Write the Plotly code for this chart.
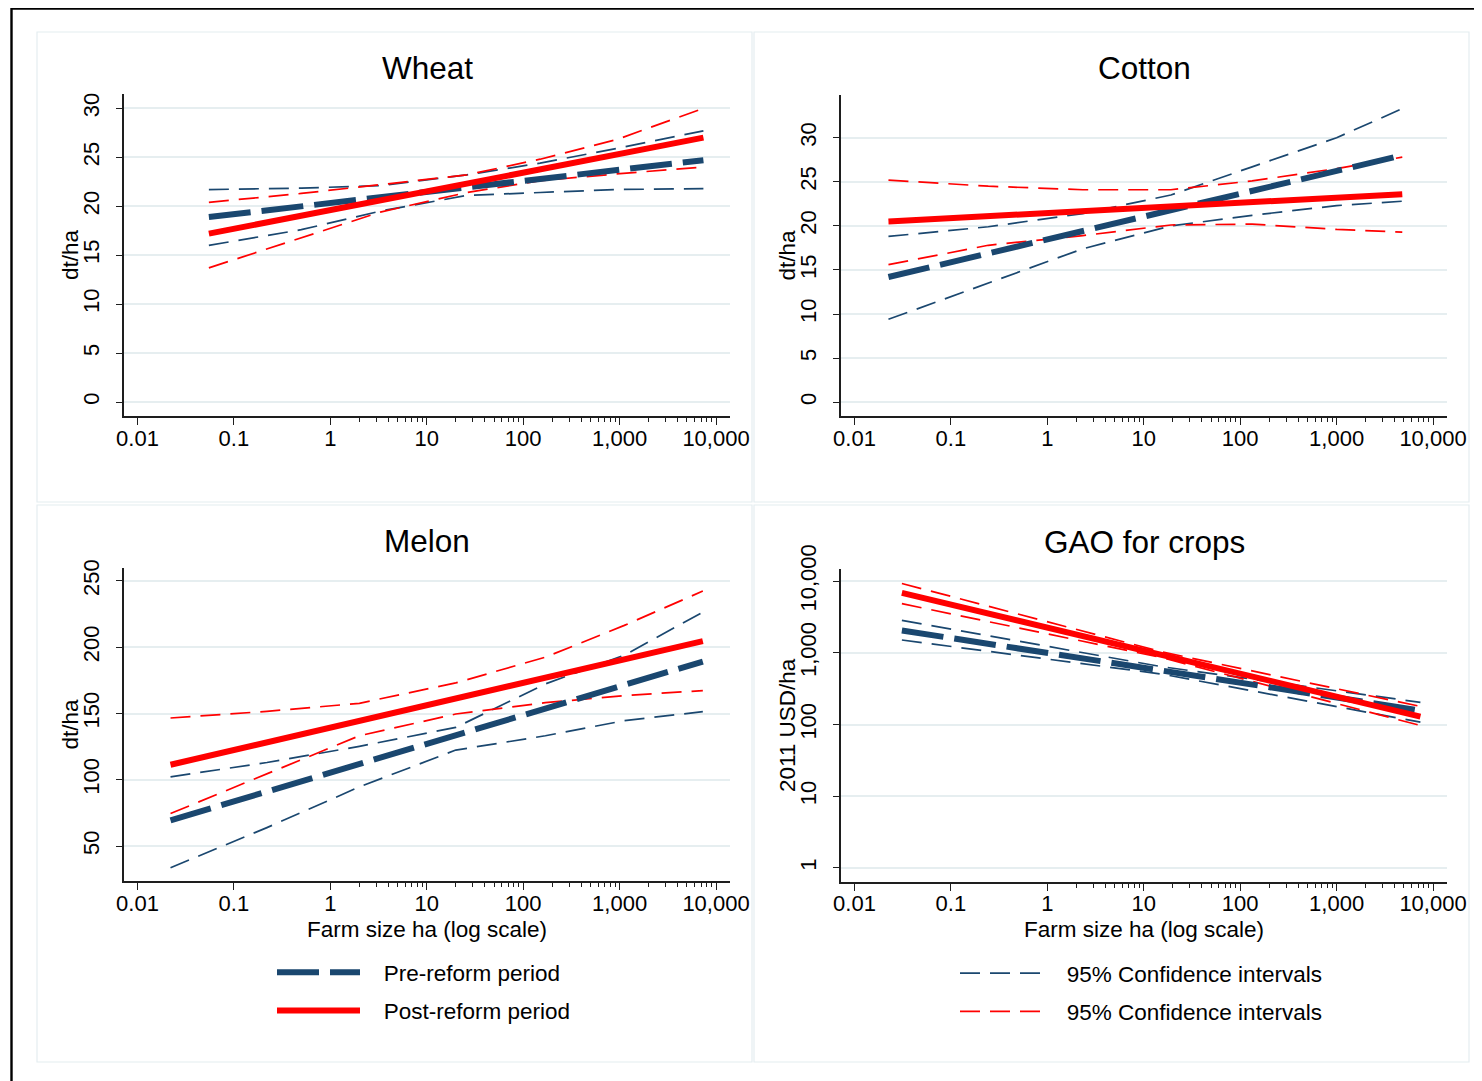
import plotly.graph_objects as go

# ---------------- data ----------------
# Wheat
wheat_x_fit = [0.055, 7400]
wheat_pre = [18.9, 24.7]
wheat_post = [17.2, 27.0]
wheat_x_ci = [0.055, 0.5, 3.3, 26, 150, 930, 7400]
wheat_pre_hi = [21.7, 21.85, 22.1, 23.2, 24.4, 25.9, 27.7]
wheat_pre_lo = [16.0, 17.6, 19.5, 21.1, 21.4, 21.7, 21.8]
wheat_post_hi = [20.4, 21.3, 22.2, 23.2, 24.8, 26.8, 30.0]
wheat_post_lo = [13.7, 16.8, 19.4, 21.4, 22.6, 23.3, 24.0]

# Cotton
cotton_x_fit = [0.0225, 4800]
cotton_pre = [14.2, 28.0]
cotton_post = [20.5, 23.6]
cotton_x_ci = [0.0225, 0.244, 2.33, 19.1, 133, 1000, 4800]
cotton_pre_hi = [18.8, 19.9, 21.4, 23.5, 26.7, 30.0, 33.3]
cotton_pre_lo = [9.4, 13.5, 17.4, 20.0, 21.2, 22.3, 22.8]
cotton_post_hi = [25.2, 24.5, 24.1, 24.1, 25.1, 26.5, 27.8]
cotton_post_lo = [15.6, 17.8, 18.9, 20.1, 20.2, 19.6, 19.3]

# Melon
melon_x_fit = [0.022, 7300]
melon_pre = [69.4, 189.2]
melon_post = [111.3, 204.6]
melon_x_ci = [0.022, 0.22, 2.0, 20, 170, 1120, 7300]
melon_pre_hi = [102.2, 113.0, 125.2, 139.5, 172.3, 194.0, 226.5]
melon_pre_lo = [33.6, 63.9, 94.6, 122.4, 133.2, 144.6, 151.4]
melon_post_hi = [146.6, 151.6, 157.7, 173.1, 192.5, 216.5, 242.4]
melon_post_lo = [74.5, 104.7, 133.2, 149.6, 158.2, 163.5, 167.3]

# GAO for crops (2011 USD/ha)
gao_x_fit = [0.031, 7400]
gao_pre = [2050, 157]
gao_post = [6850, 129]
gao_x_ci = [0.031, 15.5, 7400]
gao_pre_hi = [2830, 640, 204]
gao_pre_lo = [1510, 505, 108]
gao_post_hi = [9270, 1030, 179]
gao_post_lo = [4850, 855, 97]

# tick labels
x_tickvals = [0.01, 0.1, 1, 10, 100, 1000, 10000]
x_ticktext = ["0.01", "0.1", "1", "10", "100", "1,000", "10,000"]
x_minorvals = [m * d for d in (1, 10, 100, 1000) for m in range(2, 10)]
dt_tickvals = [0, 5, 10, 15, 20, 25, 30]
melon_tickvals = [50, 100, 150, 200, 250]
gao_tickvals = [1, 10, 100, 1000, 10000]
gao_ticktext = ["1", "10", "100", "1,000", "10,000"]

titles = ["Wheat", "Cotton", "Melon", "GAO for crops"]
y_titles = ["dt/ha", "dt/ha", "dt/ha", "2011 USD/ha"]
x_title = "Farm size ha (log scale)"
legend_labels = ["Pre-reform period", "Post-reform period",
                 "95% Confidence intervals", "95% Confidence intervals"]

# ---------------- styling ----------------
W, H = 1482, 1081
OFF = 8  # page body margin of the html page
NAVY = "#1a476f"
RED = "#ff0000"
FONT = "Liberation Sans, Arial, sans-serif"
GRID = "#e6eef0"
AXC = "#1e1e1e"
PAD = "\u00a0\u00a0\u00a0"  # gap between legend sample and text


def pxx(x):
    return (x - OFF) / W


def pxy(y):
    return 1 - (y - OFF) / H


panels = [
    dict(ax="", xdom=(124, 730), ydom=(94, 416), yrange=[-1.43, 31.46], ylog=False,
         yt=dt_tickvals, ytt=[str(v) for v in dt_tickvals], xtitle=False,
         xf=wheat_x_fit, pre=wheat_pre, post=wheat_post, xc=wheat_x_ci,
         prehi=wheat_pre_hi, prelo=wheat_pre_lo, posthi=wheat_post_hi, postlo=wheat_post_lo,
         title_y=68, ytitle_x=70),
    dict(ax="2", xdom=(841, 1447), ydom=(95, 416), yrange=[-1.57, 34.85], ylog=False,
         yt=dt_tickvals, ytt=[str(v) for v in dt_tickvals], xtitle=False,
         xf=cotton_x_fit, pre=cotton_pre, post=cotton_post, xc=cotton_x_ci,
         prehi=cotton_pre_hi, prelo=cotton_pre_lo, posthi=cotton_post_hi, postlo=cotton_post_lo,
         title_y=68, ytitle_x=787),
    dict(ax="3", xdom=(124, 730), ydom=(568, 881), yrange=[23.6, 259.8], ylog=False,
         yt=melon_tickvals, ytt=[str(v) for v in melon_tickvals], xtitle=True,
         xf=melon_x_fit, pre=melon_pre, post=melon_post, xc=melon_x_ci,
         prehi=melon_pre_hi, prelo=melon_pre_lo, posthi=melon_post_hi, postlo=melon_post_lo,
         title_y=541, ytitle_x=70),
    dict(ax="4", xdom=(841, 1447), ydom=(568.5, 881.6), yrange=[-0.19, 4.176], ylog=True,
         yt=gao_tickvals, ytt=gao_ticktext, xtitle=True,
         xf=gao_x_fit, pre=gao_pre, post=gao_post, xc=gao_x_ci,
         prehi=gao_pre_hi, prelo=gao_pre_lo, posthi=gao_post_hi, postlo=gao_post_lo,
         title_y=542, ytitle_x=787),
]

fig = go.Figure()
layout = dict(
    width=W, height=H, margin=dict(l=0, r=0, t=0, b=0, pad=0, autoexpand=False),
    paper_bgcolor="white", plot_bgcolor="white",
    font=dict(family=FONT, color="black", size=21),
    annotations=[], shapes=[],
)

thin = 1.7
thick = 6
ci_dash = "20px,10px"
fit_dash = "42px,11px"

for i, p in enumerate(panels):
    xa = "x" + p["ax"]
    ya = "y" + p["ax"]
    first = i == 0
    # confidence intervals
    fig.add_trace(go.Scatter(x=p["xc"], y=p["prehi"], xaxis=xa, yaxis=ya, mode="lines",
                             line=dict(color=NAVY, width=thin, dash=ci_dash),
                             name=PAD + legend_labels[2], legend="legend2", legendrank=1,
                             showlegend=first, legendgroup="ci_pre"))
    fig.add_trace(go.Scatter(x=p["xc"], y=p["prelo"], xaxis=xa, yaxis=ya, mode="lines",
                             line=dict(color=NAVY, width=thin, dash=ci_dash),
                             showlegend=False, legendgroup="ci_pre", legend="legend2"))
    fig.add_trace(go.Scatter(x=p["xc"], y=p["posthi"], xaxis=xa, yaxis=ya, mode="lines",
                             line=dict(color=RED, width=thin, dash=ci_dash),
                             name=PAD + legend_labels[3], legend="legend2", legendrank=2,
                             showlegend=first, legendgroup="ci_post"))
    fig.add_trace(go.Scatter(x=p["xc"], y=p["postlo"], xaxis=xa, yaxis=ya, mode="lines",
                             line=dict(color=RED, width=thin, dash=ci_dash),
                             showlegend=False, legendgroup="ci_post", legend="legend2"))
    # fitted lines
    fig.add_trace(go.Scatter(x=p["xf"], y=p["pre"], xaxis=xa, yaxis=ya, mode="lines",
                             line=dict(color=NAVY, width=thick, dash=fit_dash),
                             name=PAD + legend_labels[0], legend="legend", legendrank=1,
                             showlegend=first, legendgroup="pre"))
    fig.add_trace(go.Scatter(x=p["xf"], y=p["post"], xaxis=xa, yaxis=ya, mode="lines",
                             line=dict(color=RED, width=thick),
                             name=PAD + legend_labels[1], legend="legend", legendrank=2,
                             showlegend=first, legendgroup="post"))

    xkey = "xaxis" + p["ax"]
    ykey = "yaxis" + p["ax"]
    layout[xkey] = dict(
        domain=[pxx(p["xdom"][0]), pxx(p["xdom"][1])], anchor=ya, automargin=False,
        type="log", range=[-2.14, 4.145],
        tickmode="array", tickvals=x_tickvals, ticktext=x_ticktext,
        ticks="outside", ticklen=7.5, tickwidth=1.2, tickcolor=AXC,
        showline=True, linecolor=AXC, linewidth=1.5,
        showgrid=False, zeroline=False, ticklabelstandoff=-6,
        tickfont=dict(size=22, color="black", family=FONT),
        minor=dict(tickmode="array", tickvals=x_minorvals, ticks="outside", ticklen=4.5,
                   tickwidth=1, tickcolor=AXC, showgrid=False),
    )
    layout[ykey] = dict(
        domain=[pxy(p["ydom"][1]), pxy(p["ydom"][0])], anchor=xa, automargin=False,
        type="log" if p["ylog"] else "linear", range=p["yrange"],
        tickmode="array", tickvals=p["yt"], ticktext=p["ytt"], tickangle=-90,
        ticks="outside", ticklen=6, tickwidth=1.2, tickcolor=AXC,
        showline=True, linecolor=AXC, linewidth=1.5,
        showgrid=True, gridcolor=GRID, gridwidth=1.5, zeroline=False,
        ticklabelstandoff=8,
        tickfont=dict(size=22, color="black", family=FONT),
    )
    xc = pxx((p["xdom"][0] + p["xdom"][1]) / 2)
    # panel title
    layout["annotations"].append(dict(
        text=titles[i], xref="paper", yref="paper",
        x=xc, y=pxy(p["title_y"]),
        xanchor="center", yanchor="middle", showarrow=False,
        font=dict(size=31.5, color="black", family=FONT)))
    # y-axis title
    layout["annotations"].append(dict(
        text=y_titles[i], xref="paper", yref="paper", textangle=-90,
        x=pxx(p["ytitle_x"]), y=pxy((p["ydom"][0] + p["ydom"][1]) / 2),
        xanchor="center", yanchor="middle", showarrow=False,
        font=dict(size=22.5, color="black", family=FONT)))
    # x-axis title (bottom row only)
    if p["xtitle"]:
        layout["annotations"].append(dict(
            text=x_title, xref="paper", yref="paper",
            x=xc, y=pxy(929), xanchor="center", yanchor="middle", showarrow=False,
            font=dict(size=22.5, color="black", family=FONT)))

# panel outlines (light)
for (x0, y0, x1, y1) in [(37, 32, 752, 502), (754, 32, 1469, 502),
                         (37, 505, 752, 1062), (754, 505, 1469, 1062)]:
    layout["shapes"].append(dict(type="rect", xref="paper", yref="paper",
                                 x0=pxx(x0), x1=pxx(x1), y0=pxy(y1), y1=pxy(y0),
                                 line=dict(color="#e4edf0", width=1.2), layer="below"))
# outer black frame (cropped at right/bottom)
layout["shapes"].append(dict(type="rect", xref="paper", yref="paper",
                             x0=pxx(11.5), x1=1.05, y0=-0.05, y1=pxy(8.6),
                             line=dict(color="black", width=2.4)))

layout["legend"] = dict(x=pxx(272), y=pxy(951), xanchor="left", yanchor="top",
                        bgcolor="rgba(0,0,0,0)", borderwidth=0, itemwidth=83,
                        tracegroupgap=6, font=dict(size=22.5, color="black", family=FONT),
                        traceorder="grouped")
layout["legend2"] = dict(x=pxx(955), y=pxy(952), xanchor="left", yanchor="top",
                         bgcolor="rgba(0,0,0,0)", borderwidth=0, itemwidth=83,
                         tracegroupgap=6, font=dict(size=22.5, color="black", family=FONT),
                         traceorder="grouped")

fig.update_layout(**layout)
fig.write_html("out.html")
